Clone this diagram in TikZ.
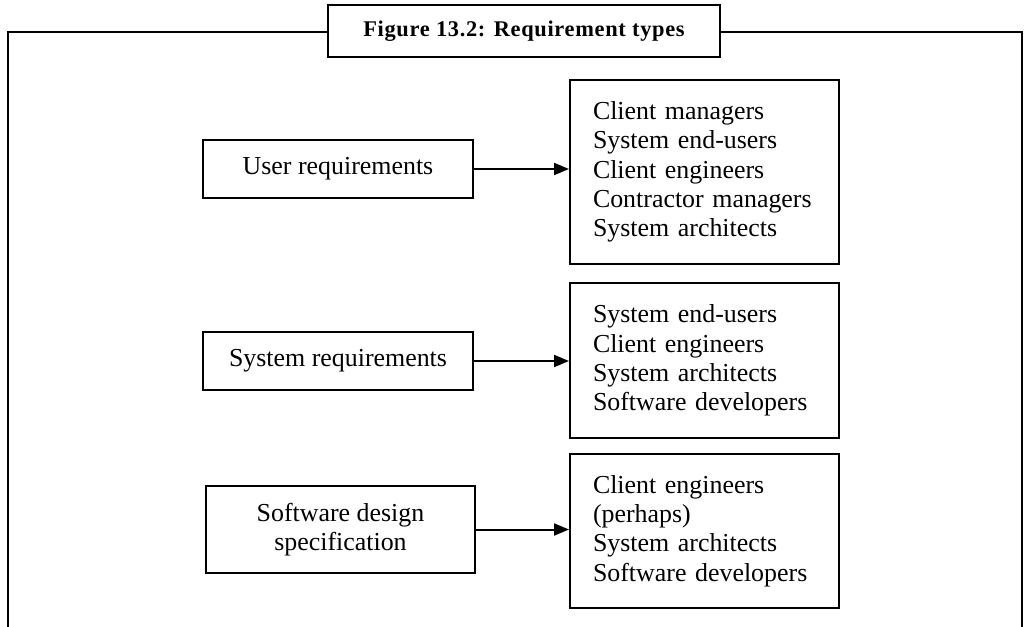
\documentclass[tikz,border=0pt]{standalone}
\usepackage{fontspec}
\setmainfont{Liberation Serif}
\usetikzlibrary{arrows.meta}
\tikzset{
  box/.style={draw, line width=2bp, rectangle, inner sep=0pt, font=\fontsize{26}{29.5}\selectfont},
  listbox/.style={box, minimum width=269bp, text width=223bp, align=left},
  link/.style={line width=2bp, -{Triangle[length=15bp,width=12bp]}},
}
\begin{document}
\begin{tikzpicture}[x=1bp,y=-1bp]
\useasboundingbox (0,0) rectangle (1031,627);
\begin{scope}
\clip (0,0) rectangle (1031,627);
\draw[line width=2bp] (8,640) -- (8,32) -- (1022,32) -- (1022,640);
\end{scope}
\node[box, fill=white, minimum width=392bp, minimum height=52bp, font=\fontsize{22.5}{24}\selectfont\bfseries\addfontfeature{LetterSpace=3}] (title) at (524,31) {Figure 13.2: Requirement types};

\node[box, minimum width=270bp, minimum height=58bp] (u) at (338,169) {User requirements};
\node[box, minimum width=270bp, minimum height=58bp] (s) at (338,361) {System requirements};
\node[box, minimum width=269bp, minimum height=87bp, align=center] (d) at (340.5,529.5) {Software design\\specification};

\node[listbox, minimum height=184bp] (r1) at (704.5,172) {Client managers\\System end-users\\Client engineers\\Contractor managers\\System architects};
\node[listbox, minimum height=155bp] (r2) at (704.5,360.5) {System end-users\\Client engineers\\System architects\\Software developers};
\node[listbox, minimum height=154bp] (r3) at (704.5,531) {Client engineers\\(perhaps)\\System architects\\Software developers};

\draw[link] (u.east) -- (u.east -| r1.west);
\draw[link] (s.east) -- (s.east -| r2.west);
\draw[link] (d.east) -- (d.east -| r3.west);
\end{tikzpicture}
\end{document}
